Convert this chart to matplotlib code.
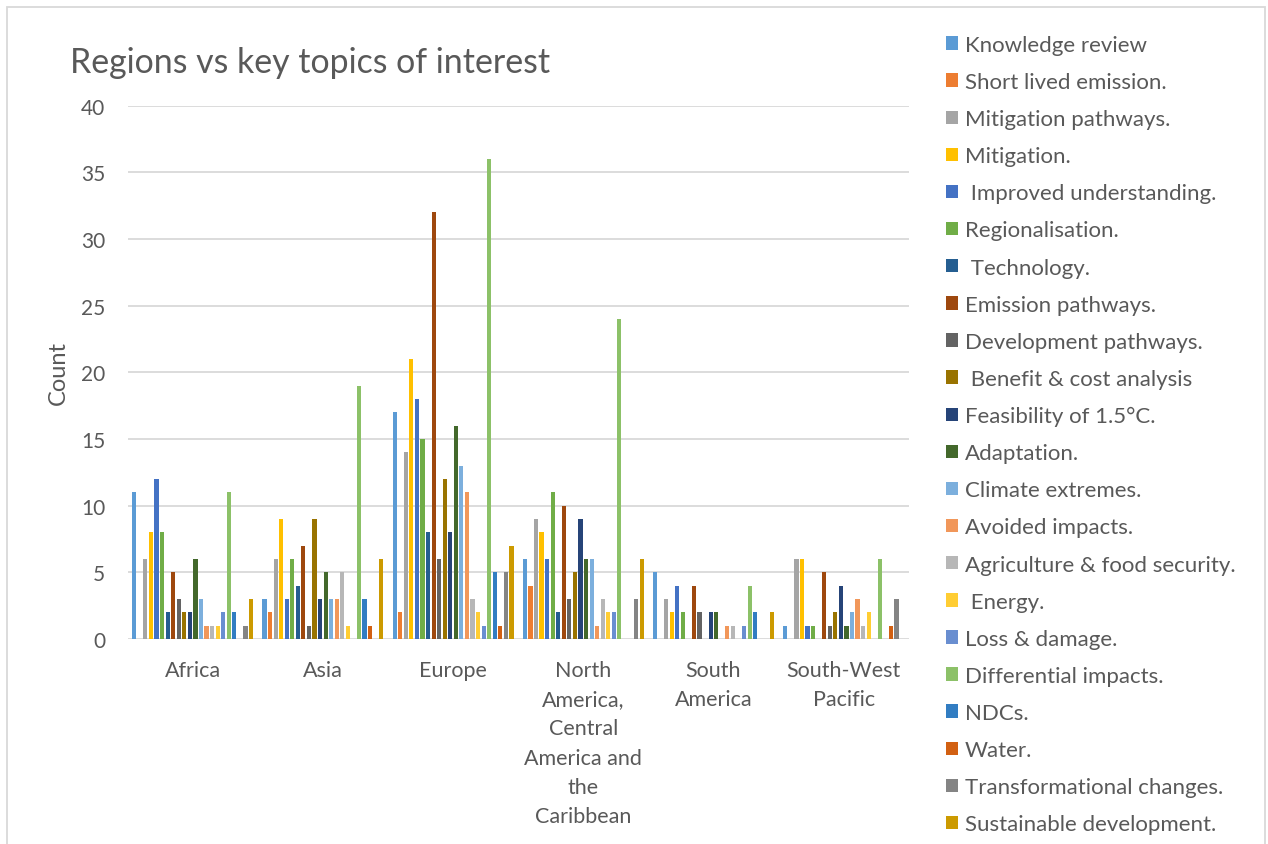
import numpy as np
import matplotlib.pyplot as plt
from matplotlib.patches import Rectangle

plt.rcParams['font.family'] = ['Lato', 'DejaVu Sans']

# regions on the x axis
regions = ["Africa", "Asia", "Europe",
           "North\nAmerica,\nCentral\nAmerica and\nthe\nCaribbean",
           "South\nAmerica", "South-West\nPacific"]

# topics, one bar series each
topics = ["Knowledge review", "Short lived emission.", "Mitigation pathways.",
          "Mitigation.", " Improved understanding.", "Regionalisation.",
          " Technology.", "Emission pathways.", "Development pathways.",
          " Benefit & cost analysis", "Feasibility of 1.5°C.", "Adaptation.",
          "Climate extremes.", "Avoided impacts.", "Agriculture & food security.",
          " Energy.", "Loss & damage.", "Differential impacts.", "NDCs.",
          "Water.", "Transformational changes.", "Sustainable development."]

# counts per region, in topic order
africa = [11, 0, 6, 8, 12, 8, 2, 5, 3, 2, 2, 6, 3, 1, 1, 1, 2, 11, 2, 0, 1, 3]
asia = [3, 2, 6, 9, 3, 6, 4, 7, 1, 9, 3, 5, 3, 3, 5, 1, 0, 19, 3, 1, 0, 6]
europe = [17, 2, 14, 21, 18, 15, 8, 32, 6, 12, 8, 16, 13, 11, 3, 2, 1, 36, 5, 1, 5, 7]
north_america = [6, 4, 9, 8, 6, 11, 2, 10, 3, 5, 9, 6, 6, 1, 3, 2, 2, 24, 0, 0, 3, 6]
south_america = [5, 0, 3, 2, 4, 2, 0, 4, 2, 0, 2, 2, 0, 1, 1, 0, 1, 4, 2, 0, 0, 2]
sw_pacific = [1, 0, 6, 6, 1, 1, 0, 5, 1, 2, 4, 1, 2, 3, 1, 2, 0, 6, 0, 1, 3, 0]

colors = ['#5B9BD5', '#ED7D31', '#A5A5A5', '#FFC000', '#4472C4', '#70AD47',
          '#255E91', '#9E480E', '#636363', '#997300', '#264478', '#43682B',
          '#7CAFDD', '#F1975A', '#B7B7B7', '#FFCD33', '#698ED0', '#8CC168',
          '#327DC2', '#D26012', '#848484', '#CC9A00']

counts = np.array([africa, asia, europe, north_america, south_america, sw_pacific])
text_col = '#595959'

fig = plt.figure(figsize=(12.68, 8.45), dpi=100)
ax = fig.add_axes([0.1006, 0.2426, 0.6161, 0.6311])

x = np.arange(len(regions))
slot = 0.0427
for j, topic in enumerate(topics):
    ax.bar(x + (j - 10.5) * slot, counts[:, j], width=0.032,
           color=colors[j], label=topic, zorder=3)

ax.set_xlim(-0.5, len(regions) - 0.5)
ax.set_ylim(0, 40)
ax.set_yticks(range(0, 41, 5))
ax.set_xticks(x)
ax.set_xticklabels(regions, fontsize=15.5, color=text_col, linespacing=1.58,
                   va='top')
ax.tick_params(axis='y', labelsize=15, labelcolor=text_col, length=0, pad=16)
ax.tick_params(axis='x', length=0, pad=15)
ax.grid(axis='y', color='#D9D9D9', linewidth=1.3, zorder=0)
for s in ax.spines.values():
    s.set_visible(False)
ax.set_ylabel("Count", fontsize=17, color=text_col, labelpad=9)

fig.text(70 / 1268, 1 - 63 / 845, "Regions vs key topics of interest",
         fontsize=24.4, color=text_col, va='center', ha='left')

# legend down the right side
fig.legend(loc='upper left', bbox_to_anchor=(937 / 1268, 1 - 27 / 845),
           frameon=False, fontsize=16, labelcolor=text_col,
           handlelength=0.55, handleheight=0.55, handletextpad=0.3,
           labelspacing=0.77, borderaxespad=0)

# chart area border
fig.patches.append(Rectangle((7 / 1268, -0.05), 1258 / 1268, 1 - 8 / 845 + 0.05,
                             transform=fig.transFigure, fill=False,
                             edgecolor='#D9D9D9', linewidth=1.3))

fig.savefig("out.png", dpi=100)
plt.close(fig)
